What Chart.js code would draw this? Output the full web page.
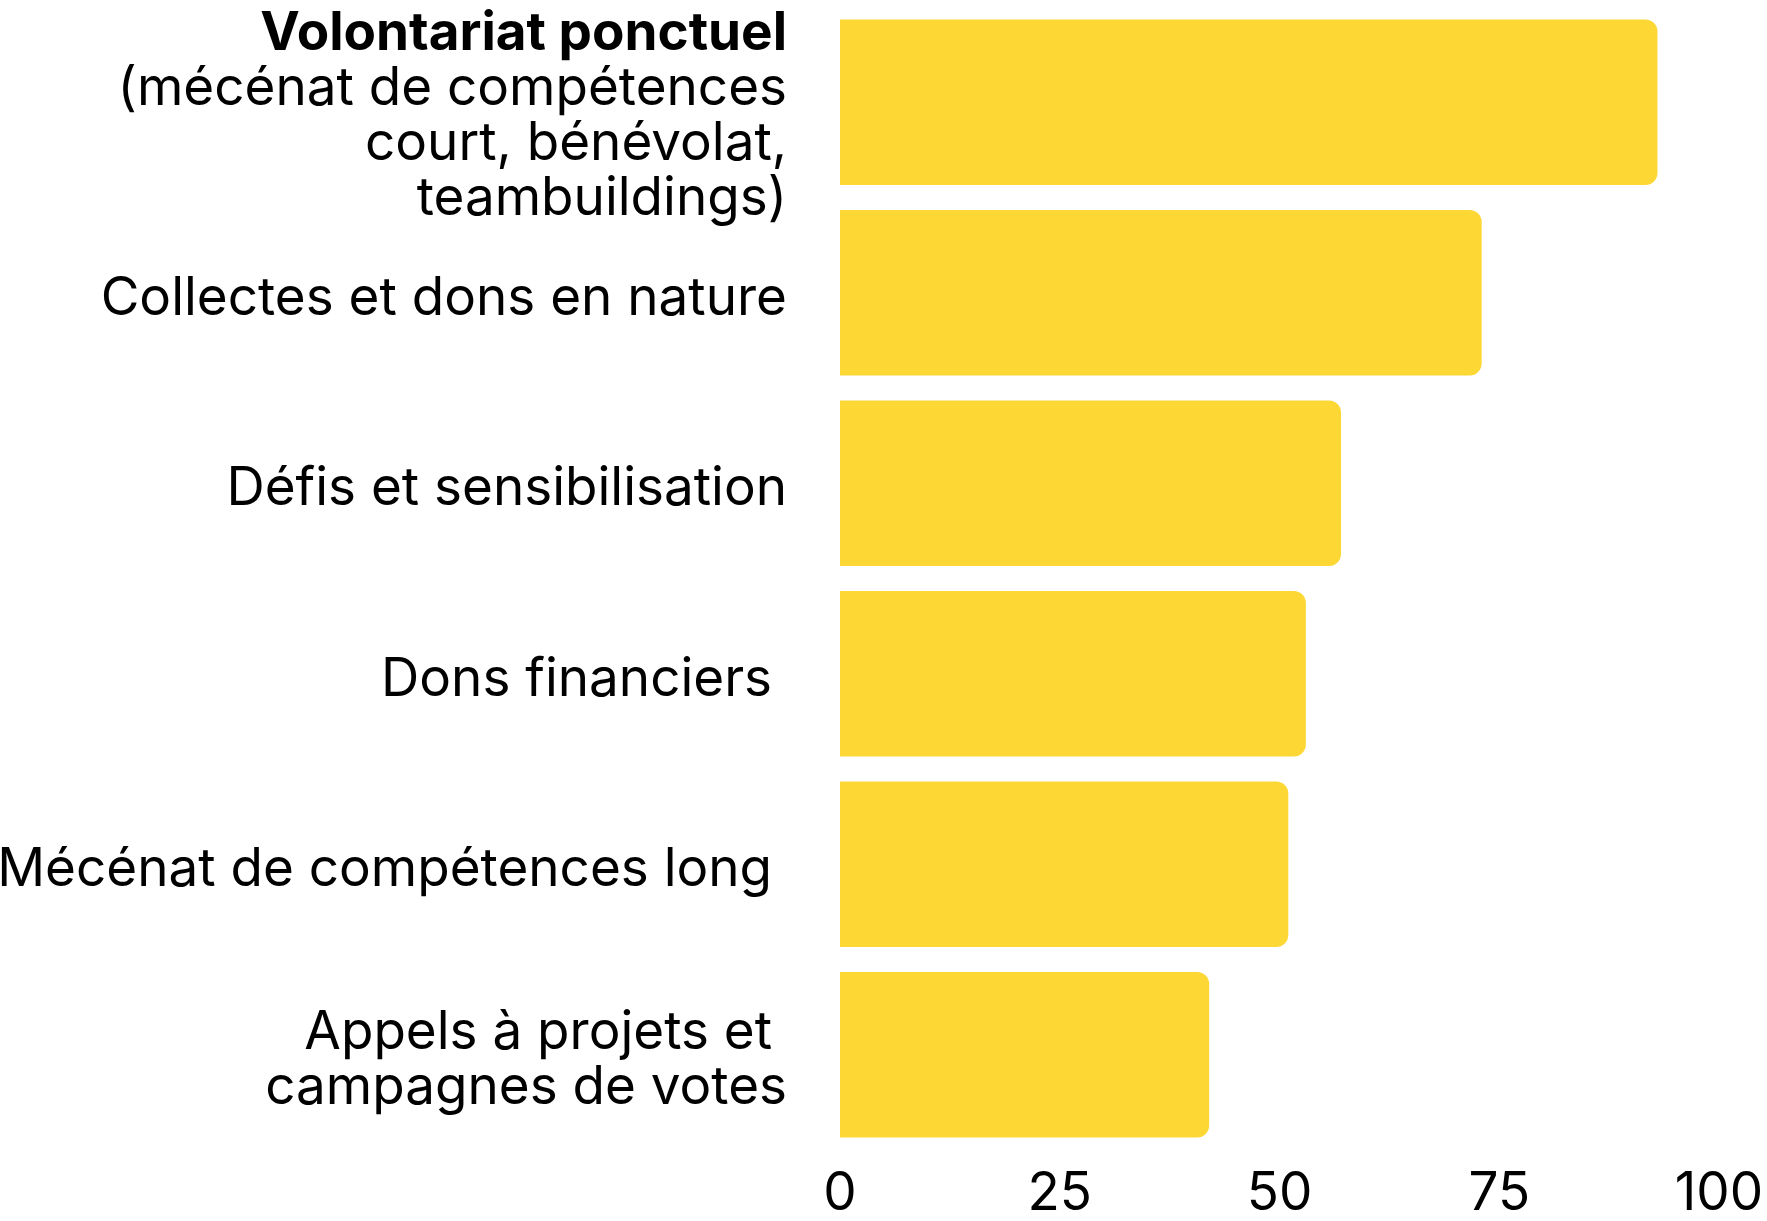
<!DOCTYPE html>
<html>
<head>
<meta charset="utf-8">
<script src="https://cdn.jsdelivr.net/npm/chart.js@4"></script>
<style>
  html, body { margin: 0; padding: 0; background: #fff; }
  #wrap { width: 1767px; height: 1221px; }
</style>
</head>
<body>
<div id="wrap"><canvas id="graphique"></canvas></div>
<script>
const categories = [
  ['Volontariat ponctuel', '(mécénat de compétences', 'court, bénévolat,', 'teambuildings)'],
  ['Collectes et dons en nature'],
  ['Défis et sensibilisation'],
  ['Dons financiers '],
  ['Mécénat de compétences long '],
  ['Appels à projets et ', 'campagnes de votes']
];
const valeurs = [93, 73, 57, 53, 51, 42];
const graduations = [0, 25, 50, 75, 100];

const police = 'Inter, "Noto Sans", sans-serif';

// dessine les libellés de gauche (1re ligne du 1er libellé en gras)
const libelles = {
  id: 'libelles',
  afterDraw(chart) {
    const ctx = chart.ctx;
    const y = chart.scales.y;
    const xDroite = 787;
    const hauteurLigne = 55;
    ctx.save();
    ctx.fillStyle = '#000';
    ctx.textAlign = 'right';
    ctx.textBaseline = 'middle';
    categories.forEach((lignes, i) => {
      const centre = y.getPixelForValue(i) + (lignes.length > 3 ? 14 : 6);
      const debut = centre - (lignes.length - 1) * hauteurLigne / 2;
      lignes.forEach((txt, j) => {
        const gras = i === 0 && j === 0;
        ctx.font = (gras ? '700 ' : '400 ') + '53px ' + police;
        ctx.fillText(txt, xDroite, debut + j * hauteurLigne);
      });
    });
    ctx.restore();
  }
};

new Chart(document.getElementById('graphique'), {
  type: 'bar',
  data: {
    labels: categories.map(l => l.join(' ')),
    datasets: [{
      data: valeurs,
      backgroundColor: '#FDD835',
      borderRadius: 12,
      borderSkipped: 'start',
      barPercentage: 0.87,
      categoryPercentage: 1
    }]
  },
  options: {
    indexAxis: 'y',
    responsive: true,
    maintainAspectRatio: false,
    animation: false,
    layout: { padding: { top: 7, right: 48, bottom: 0, left: 0 } },
    plugins: {
      legend: { display: false },
      tooltip: { enabled: false }
    },
    scales: {
      x: {
        min: 0,
        max: 100,
        afterBuildTicks: scale => { scale.ticks = graduations.map(v => ({ value: v })); },
        afterFit: scale => {
          scale.paddingRight = 0;
          scale.paddingLeft = 0;
          scale.height = 71;
        },
        grid: { display: false, drawTicks: false },
        border: { display: false },
        ticks: {
          color: '#000',
          padding: 18,
          maxRotation: 0,
          font: { family: police, size: 53, lineHeight: 1 }
        }
      },
      y: {
        grid: { display: false, drawTicks: false },
        border: { display: false },
        ticks: { display: false },
        afterFit: scale => { scale.width = 840; }
      }
    }
  },
  plugins: [libelles]
});
</script>
</body>
</html>
